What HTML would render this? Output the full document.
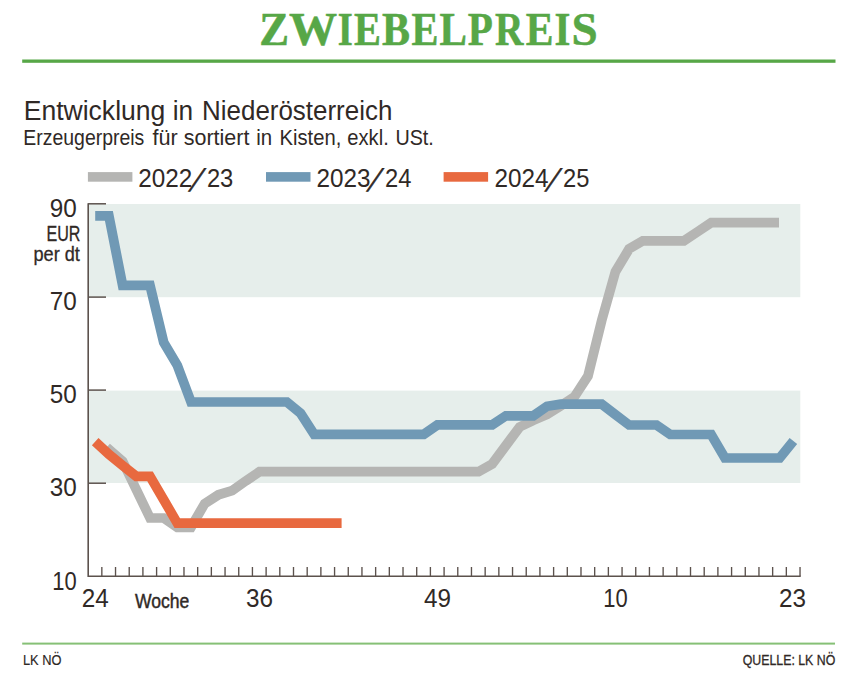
<!DOCTYPE html>
<html lang="de"><head><meta charset="utf-8"><title>Zwiebelpreis</title>
<style>html,body{margin:0;padding:0;background:#fff}svg{display:block}text{font-family:"Liberation Sans",sans-serif;fill:#302926}.ttl{font-family:"Liberation Serif",serif;font-weight:bold;fill:#57a747}</style></head><body>
<svg width="865" height="684" viewBox="0 0 865 684">
<rect width="865" height="684" fill="#fff"/>
<text class="ttl" y="45.0" font-size="46.4" stroke="#57a747" stroke-width="0.5"><tspan x="259.21" textLength="29.80" lengthAdjust="spacingAndGlyphs">Z</tspan><tspan x="289.00" textLength="48.11" lengthAdjust="spacingAndGlyphs">W</tspan><tspan x="337.66" textLength="15.02" lengthAdjust="spacingAndGlyphs">I</tspan><tspan x="353.89" textLength="26.93" lengthAdjust="spacingAndGlyphs">E</tspan><tspan x="381.90" textLength="28.01" lengthAdjust="spacingAndGlyphs">B</tspan><tspan x="411.62" textLength="26.94" lengthAdjust="spacingAndGlyphs">E</tspan><tspan x="439.43" textLength="27.43" lengthAdjust="spacingAndGlyphs">L</tspan><tspan x="467.65" textLength="25.10" lengthAdjust="spacingAndGlyphs">P</tspan><tspan x="494.97" textLength="28.43" lengthAdjust="spacingAndGlyphs">R</tspan><tspan x="525.85" textLength="27.75" lengthAdjust="spacingAndGlyphs">E</tspan><tspan x="554.38" textLength="15.90" lengthAdjust="spacingAndGlyphs">I</tspan><tspan x="571.49" textLength="26.18" lengthAdjust="spacingAndGlyphs">S</tspan></text>
<rect x="22.2" y="59.5" width="813.3" height="3.3" fill="#57a747"/>
<text y="120.3" font-size="28.4"><tspan x="23.71" textLength="141.62" lengthAdjust="spacingAndGlyphs">Entwicklung</tspan> <tspan x="172.71" textLength="20.43" lengthAdjust="spacingAndGlyphs">in</tspan> <tspan x="202.07" textLength="190.25" lengthAdjust="spacingAndGlyphs">Niederösterreich</tspan></text>
<text y="145.1" font-size="22.5"><tspan x="23.32" textLength="121.00" lengthAdjust="spacingAndGlyphs">Erzeugerpreis</tspan> <tspan x="152.49" textLength="25.24" lengthAdjust="spacingAndGlyphs">für</tspan> <tspan x="183.72" textLength="65.70" lengthAdjust="spacingAndGlyphs">sortiert</tspan> <tspan x="256.20" textLength="15.93" lengthAdjust="spacingAndGlyphs">in</tspan> <tspan x="279.48" textLength="61.80" lengthAdjust="spacingAndGlyphs">Kisten,</tspan> <tspan x="347.28" textLength="41.49" lengthAdjust="spacingAndGlyphs">exkl.</tspan> <tspan x="395.40" textLength="38.41" lengthAdjust="spacingAndGlyphs">USt.</tspan></text>
<rect x="87.9" y="172.1" width="44.5" height="9.6" fill="#b5b5b3"/>
<text y="186.8" font-size="25.8"><tspan x="138.3" textLength="54.0" lengthAdjust="spacingAndGlyphs">2022</tspan></text>
<text transform="translate(188.5,190.9) skewX(-26) scale(1,1.33)" font-size="23.3" x="0" y="0" stroke="#302926" stroke-width="0.8">/</text>
<text y="186.8" font-size="25.8"><tspan x="206.9" textLength="26.4" lengthAdjust="spacingAndGlyphs">23</tspan></text>
<rect x="266.0" y="172.1" width="44.5" height="9.6" fill="#7099b5"/>
<text y="186.8" font-size="25.8"><tspan x="316.4" textLength="54.0" lengthAdjust="spacingAndGlyphs">2023</tspan></text>
<text transform="translate(366.6,190.9) skewX(-26) scale(1,1.33)" font-size="23.3" x="0" y="0" stroke="#302926" stroke-width="0.8">/</text>
<text y="186.8" font-size="25.8"><tspan x="385.0" textLength="26.4" lengthAdjust="spacingAndGlyphs">24</tspan></text>
<rect x="443.6" y="172.1" width="44.5" height="9.6" fill="#e8693f"/>
<text y="186.8" font-size="25.8"><tspan x="494.5" textLength="54.0" lengthAdjust="spacingAndGlyphs">2024</tspan></text>
<text transform="translate(544.7,190.9) skewX(-26) scale(1,1.33)" font-size="23.3" x="0" y="0" stroke="#302926" stroke-width="0.8">/</text>
<text y="186.8" font-size="25.8"><tspan x="563.1" textLength="26.4" lengthAdjust="spacingAndGlyphs">25</tspan></text>
<rect x="88.2" y="204.0" width="712.1" height="93.2" fill="#e6eeeb"/>
<rect x="88.2" y="390.6" width="712.1" height="92.4" fill="#e6eeeb"/>
<polyline points="106.7,447.4 122.6,461.2 136.3,489.6 150.0,518.0 163.7,518.0 177.3,527.3 191.0,527.3 204.7,503.6 218.4,494.8 232.1,490.7 245.8,480.9 259.5,471.7 273.2,471.7 286.9,471.7 300.6,471.7 314.2,471.7 327.9,471.7 341.6,471.7 355.3,471.7 369.0,471.7 382.7,471.7 396.4,471.7 410.1,471.7 423.8,471.7 437.4,471.7 451.1,471.7 464.8,471.7 478.5,471.7 492.2,464.0 505.9,445.5 519.6,427.0 533.3,420.3 547.0,414.5 560.7,405.8 574.4,396.8 588.0,376.0 601.7,320.5 615.4,271.8 629.1,248.9 642.8,240.8 656.5,240.8 670.2,240.8 683.9,240.8 697.6,231.8 711.2,222.7 724.9,222.7 738.6,222.7 752.3,222.7 766.0,222.7 779.0,222.7" fill="none" stroke="#b5b5b3" stroke-width="9.7" stroke-linejoin="miter" stroke-linecap="butt"/>
<polyline points="95.2,215.9 108.9,215.9 122.6,285.3 136.3,285.3 150.0,285.3 163.7,342.4 177.3,365.3 191.0,402.0 204.7,402.0 218.4,402.0 232.1,402.0 245.8,402.0 259.5,402.0 273.2,402.0 286.9,402.0 300.6,413.3 314.2,434.3 327.9,434.3 341.6,434.3 355.3,434.3 369.0,434.3 382.7,434.3 396.4,434.3 410.1,434.3 423.8,434.3 437.4,424.9 451.1,424.9 464.8,424.9 478.5,424.9 492.2,424.9 505.9,415.8 519.6,415.8 533.3,415.8 547.0,406.3 560.7,404.2 574.4,404.2 588.0,404.2 601.7,404.2 615.4,414.6 629.1,425.0 642.8,425.0 656.5,425.0 670.2,434.5 683.9,434.5 697.6,434.5 711.2,434.5 724.9,458.0 738.6,458.0 752.3,458.0 766.0,458.0 779.7,458.0 793.4,441.0" fill="none" stroke="#7099b5" stroke-width="9.7" stroke-linejoin="miter" stroke-linecap="butt"/>
<polyline points="95.2,441.6 108.9,454.3 122.6,465.4 136.3,476.4 150.0,476.4 163.7,499.8 177.3,523.1 191.0,523.1 204.7,523.1 218.4,523.1 232.1,523.1 245.8,523.1 259.5,523.1 273.2,523.1 286.9,523.1 300.6,523.1 314.2,523.1 327.9,523.1 341.6,523.1" fill="none" stroke="#e8693f" stroke-width="9.7" stroke-linejoin="miter" stroke-linecap="butt"/>
<g stroke="#5c524d" fill="none">
<path d="M88.2 203.2 V576.2 H800.7" stroke-width="1.6"/>
<path d="M88.2 203.8 h17.8" stroke-width="1.5"/>
<path d="M88.2 297.1 h17.8" stroke-width="1.5"/>
<path d="M88.2 390.1 h17.8" stroke-width="1.5"/>
<path d="M88.2 483.2 h17.8" stroke-width="1.5"/>
<path d="M101.84 576.2v-9.2M115.53 576.2v-9.2M129.22 576.2v-9.2M142.91 576.2v-9.2M156.60 576.2v-9.2M170.29 576.2v-9.2M183.98 576.2v-9.2M197.67 576.2v-9.2M211.36 576.2v-9.2M225.05 576.2v-9.2M238.74 576.2v-9.2M252.43 576.2v-9.2M266.12 576.2v-9.2M279.81 576.2v-9.2M293.50 576.2v-9.2M307.19 576.2v-9.2M320.88 576.2v-9.2M334.57 576.2v-9.2M348.26 576.2v-9.2M361.95 576.2v-9.2M375.64 576.2v-9.2M389.33 576.2v-9.2M403.02 576.2v-9.2M416.71 576.2v-9.2M430.40 576.2v-9.2M444.09 576.2v-9.2M457.78 576.2v-9.2M471.47 576.2v-9.2M485.16 576.2v-9.2M498.85 576.2v-9.2M512.54 576.2v-9.2M526.23 576.2v-9.2M539.92 576.2v-9.2M553.61 576.2v-9.2M567.30 576.2v-9.2M580.99 576.2v-9.2M594.68 576.2v-9.2M608.37 576.2v-9.2M622.06 576.2v-9.2M635.75 576.2v-9.2M649.44 576.2v-9.2M663.13 576.2v-9.2M676.82 576.2v-9.2M690.51 576.2v-9.2M704.20 576.2v-9.2M717.89 576.2v-9.2M731.58 576.2v-9.2M745.27 576.2v-9.2M758.96 576.2v-9.2M772.65 576.2v-9.2M786.34 576.2v-9.2M800.03 576.2v-9.2" stroke-width="1.35"/>
</g>
<text x="76.7" y="216.9" font-size="25.6" text-anchor="end" textLength="27.0" lengthAdjust="spacingAndGlyphs">90</text>
<text x="76.7" y="310.1" font-size="25.6" text-anchor="end" textLength="27.0" lengthAdjust="spacingAndGlyphs">70</text>
<text x="76.7" y="402.9" font-size="25.6" text-anchor="end" textLength="27.0" lengthAdjust="spacingAndGlyphs">50</text>
<text x="76.7" y="496.1" font-size="25.6" text-anchor="end" textLength="27.0" lengthAdjust="spacingAndGlyphs">30</text>
<text x="76.7" y="589.6" font-size="25.6" text-anchor="end" textLength="24.4" lengthAdjust="spacingAndGlyphs">10</text>
<text x="80.4" y="240.5" font-size="21.4" text-anchor="end" textLength="34" lengthAdjust="spacingAndGlyphs" stroke="#302926" stroke-width="0.3">EUR</text>
<text x="79.9" y="260.5" font-size="21" text-anchor="end" textLength="46.4" lengthAdjust="spacingAndGlyphs" stroke="#302926" stroke-width="0.3">per dt</text>
<text x="95.2" y="606.9" font-size="25.6" text-anchor="middle" textLength="27.0" lengthAdjust="spacingAndGlyphs">24</text>
<text x="259.5" y="606.9" font-size="25.6" text-anchor="middle" textLength="27.0" lengthAdjust="spacingAndGlyphs">36</text>
<text x="437.4" y="606.9" font-size="25.6" text-anchor="middle" textLength="27.0" lengthAdjust="spacingAndGlyphs">49</text>
<text x="615.4" y="606.9" font-size="25.6" text-anchor="middle" textLength="24.4" lengthAdjust="spacingAndGlyphs">10</text>
<text x="792.4" y="606.9" font-size="25.6" text-anchor="middle" textLength="27.0" lengthAdjust="spacingAndGlyphs">23</text>
<text x="134.9" y="607.7" font-size="20.2" textLength="54.4" lengthAdjust="spacingAndGlyphs" stroke="#302926" stroke-width="0.45">Woche</text>
<rect x="22.2" y="642.6" width="812.8" height="2.0" fill="#86c076"/>
<text x="22.9" y="664.7" font-size="14.3" textLength="38.6" lengthAdjust="spacingAndGlyphs" fill="#1a1a1a" stroke="#1a1a1a" stroke-width="0.15">LK NÖ</text>
<text x="835.3" y="664.6" font-size="14.3" text-anchor="end" textLength="92.6" lengthAdjust="spacingAndGlyphs" stroke="#302926" stroke-width="0.3">QUELLE: LK NÖ</text>
</svg></body></html>
